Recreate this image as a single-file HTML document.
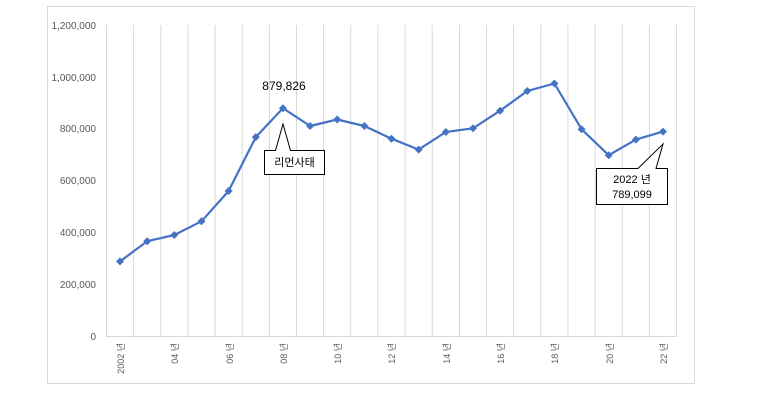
<!DOCTYPE html>
<html><head><meta charset="utf-8"><style>
body{margin:0;background:#fff;}
svg{display:block;font-family:"Liberation Sans","Noto Sans CJK KR",sans-serif;}
</style></head><body>
<svg width="760" height="401" viewBox="0 0 760 401">
<rect x="47.5" y="6.5" width="647" height="377" fill="#fff" stroke="#d9d9d9"/>
<g stroke="#d9d9d9" stroke-width="1">
<line x1="106.5" y1="25" x2="106.5" y2="336"/><line x1="133.6" y1="25" x2="133.6" y2="336"/><line x1="160.8" y1="25" x2="160.8" y2="336"/><line x1="187.9" y1="25" x2="187.9" y2="336"/><line x1="215.1" y1="25" x2="215.1" y2="336"/><line x1="242.2" y1="25" x2="242.2" y2="336"/><line x1="269.4" y1="25" x2="269.4" y2="336"/><line x1="296.5" y1="25" x2="296.5" y2="336"/><line x1="323.6" y1="25" x2="323.6" y2="336"/><line x1="350.8" y1="25" x2="350.8" y2="336"/><line x1="377.9" y1="25" x2="377.9" y2="336"/><line x1="405.1" y1="25" x2="405.1" y2="336"/><line x1="432.2" y1="25" x2="432.2" y2="336"/><line x1="459.4" y1="25" x2="459.4" y2="336"/><line x1="486.5" y1="25" x2="486.5" y2="336"/><line x1="513.6" y1="25" x2="513.6" y2="336"/><line x1="540.8" y1="25" x2="540.8" y2="336"/><line x1="567.9" y1="25" x2="567.9" y2="336"/><line x1="595.1" y1="25" x2="595.1" y2="336"/><line x1="622.2" y1="25" x2="622.2" y2="336"/><line x1="649.4" y1="25" x2="649.4" y2="336"/><line x1="676.5" y1="25" x2="676.5" y2="336"/>
<line x1="106" y1="336.5" x2="677" y2="336.5"/>
</g>
<g font-size="10" fill="#595959" text-anchor="end">
<text x="96" y="29">1,200,000</text><text x="96" y="81">1,000,000</text><text x="96" y="132">800,000</text><text x="96" y="184">600,000</text><text x="96" y="236">400,000</text><text x="96" y="288">200,000</text><text x="96" y="340">0</text>
</g>
<g font-size="9" fill="#595959" text-anchor="end">
<text transform="translate(124,343) rotate(-90)">2002 년</text>
<text transform="translate(178,343) rotate(-90)">04 년</text>
<text transform="translate(233,343) rotate(-90)">06 년</text>
<text transform="translate(287,343) rotate(-90)">08 년</text>
<text transform="translate(341,343) rotate(-90)">10 년</text>
<text transform="translate(395,343) rotate(-90)">12 년</text>
<text transform="translate(450,343) rotate(-90)">14 년</text>
<text transform="translate(504,343) rotate(-90)">16 년</text>
<text transform="translate(558,343) rotate(-90)">18 년</text>
<text transform="translate(613,343) rotate(-90)">20 년</text>
<text transform="translate(667,343) rotate(-90)">22 년</text>
</g>
<polyline fill="none" stroke="#4472c4" stroke-width="2.2" stroke-linejoin="round" points="120,261.4 147.2,241.2 174.3,235 201.5,221.3 228.6,191 255.8,137.1 282.9,108.2 310.1,126 337.2,119.5 364.4,126 391.5,138.7 418.7,149.6 445.8,132 473,128.3 500.1,110.7 527.3,91 554.4,83.5 581.6,129.3 608.7,155.2 635.9,139.6 663,131.6"/>
<g fill="#4472c4">
<path d="M120 257.4l4 4-4 4-4-4z"/><path d="M147.2 237.2l4 4-4 4-4-4z"/><path d="M174.3 231l4 4-4 4-4-4z"/><path d="M201.5 217.3l4 4-4 4-4-4z"/><path d="M228.6 187l4 4-4 4-4-4z"/><path d="M255.8 133.1l4 4-4 4-4-4z"/><path d="M282.9 104.2l4 4-4 4-4-4z"/><path d="M310.1 122l4 4-4 4-4-4z"/><path d="M337.2 115.5l4 4-4 4-4-4z"/><path d="M364.4 122l4 4-4 4-4-4z"/><path d="M391.5 134.7l4 4-4 4-4-4z"/><path d="M418.7 145.6l4 4-4 4-4-4z"/><path d="M445.8 128l4 4-4 4-4-4z"/><path d="M473 124.3l4 4-4 4-4-4z"/><path d="M500.1 106.7l4 4-4 4-4-4z"/><path d="M527.3 87l4 4-4 4-4-4z"/><path d="M554.4 79.5l4 4-4 4-4-4z"/><path d="M581.6 125.3l4 4-4 4-4-4z"/><path d="M608.7 151.2l4 4-4 4-4-4z"/><path d="M635.9 135.6l4 4-4 4-4-4z"/><path d="M663 127.6l4 4-4 4-4-4z"/>
</g>
<text x="284" y="90" font-size="12" text-anchor="middle" fill="#000">879,826</text>
<path d="M264.5 150.5H275.5L283 124L290.5 150.5H324.5V174.5H264.5Z" fill="#fff" stroke="#000" stroke-width="1"/>
<text x="294.5" y="166" font-size="11" text-anchor="middle" fill="#000">리먼사태</text>
<path d="M596.5 168.5H638L663 144L656 168.5H667.5V204.5H596.5Z" fill="#fff" stroke="#000" stroke-width="1"/>
<text x="632" y="183" font-size="11" text-anchor="middle" fill="#000">2022 년</text>
<text x="632" y="198" font-size="11" text-anchor="middle" fill="#000">789,099</text>
</svg>
</body></html>
